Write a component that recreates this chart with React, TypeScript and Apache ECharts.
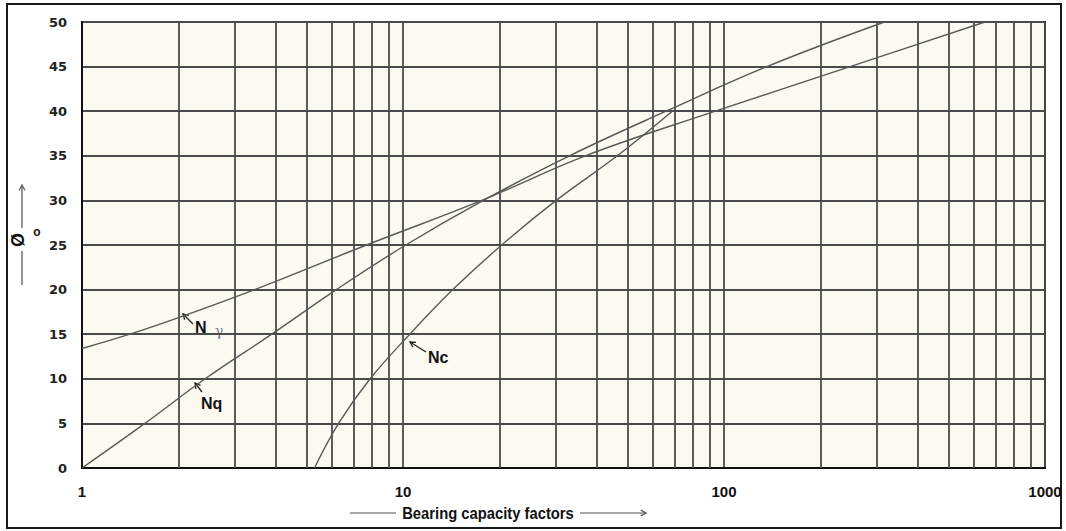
import React, { useEffect, useRef } from "react";
import * as echarts from "echarts";

// Friction angle (degrees) and bearing capacity factor values
const phiNq = [0, 5, 10, 15, 20, 25, 30, 35, 40, 45, 50];
const valNq = [1.0, 1.57, 2.42, 3.9, 6.2, 10.2, 17.8, 33, 66, 136, 316];

const phiNc = [0, 5, 10, 15, 20, 25, 30, 35, 40];
const valNc = [5.3, 6.3, 7.9, 10.5, 14.3, 20.3, 30.0, 46.5, 69];

const phiNg = [13.4, 15, 17, 20, 25, 30, 35, 40, 45, 50];
const valNg = [1.0, 1.41, 2.05, 3.45, 7.7, 17.6, 37, 94, 247, 650];

// vertical minor grid lines of the log paper
const minorGrid = [2, 3, 4, 5, 6, 7, 8, 9, 20, 30, 40, 50, 60, 70, 80, 90, 200, 300, 400, 500, 600, 700, 800, 900];

const xTitle = "Bearing capacity factors";
const curveColor = "#585858";
const gridColor = "#4a4a4a";

function arrow(tx: number, ty: number, hx: number, hy: number, color: string, w: number) {
  const ang = Math.atan2(hy - ty, hx - tx);
  const L = 6;
  const a1 = ang + Math.PI - 0.5;
  const a2 = ang + Math.PI + 0.5;
  return [
    { type: "line", shape: { x1: tx, y1: ty, x2: hx, y2: hy }, style: { stroke: color, lineWidth: w } },
    {
      type: "polyline",
      shape: {
        points: [
          [hx + L * Math.cos(a1), hy + L * Math.sin(a1)],
          [hx, hy],
          [hx + L * Math.cos(a2), hy + L * Math.sin(a2)],
        ],
      },
      style: { stroke: color, lineWidth: w, fill: null },
    },
  ];
}

export default function App() {
  const ref = useRef<HTMLDivElement>(null);
  useEffect(() => {
    if (!ref.current) return;
    const chart = echarts.init(ref.current, null, { renderer: "svg" });
    const lineSeries = (name: string, phis: number[], vals: number[]) => ({
      name,
      type: "line",
      data: vals.map((v, i) => [v, phis[i]]),
      showSymbol: false,
      smooth: 0.4,
      lineStyle: { color: curveColor, width: 1.4 },
      z: 5,
      silent: true,
    });
    const labelFont = { fontFamily: "'Liberation Sans', Arial, sans-serif", fontWeight: "bold", fontSize: 16, fill: "#111" };
    chart.setOption({
      animation: false,
      backgroundColor: "#ffffff",
      grid: {
        left: 82,
        right: 21,
        top: 22,
        bottom: 63,
        show: true,
        backgroundColor: "#fbfaf1",
        borderColor: "#111",
        borderWidth: 2,
      },
      xAxis: {
        type: "log",
        logBase: 10,
        min: 1,
        max: 1000,
        axisLine: { show: true, lineStyle: { color: "#111", width: 2 } },
        axisTick: { show: false },
        axisLabel: {
          margin: 16,
          color: "#111",
          fontSize: 15,
          fontWeight: "bold",
          fontFamily: "'Liberation Sans', Arial, sans-serif",
          formatter: (v: number) => String(Math.round(v)),
        },
        splitLine: { show: true, lineStyle: { color: gridColor, width: 1.8 } },
      },
      yAxis: {
        type: "value",
        min: 0,
        max: 50,
        interval: 5,
        axisLine: { show: true, lineStyle: { color: "#111", width: 2 } },
        axisTick: { show: false },
        axisLabel: {
          margin: 15,
          color: "#222",
          fontSize: 13,
          fontWeight: "bold",
          fontFamily: "'DejaVu Sans', Verdana, sans-serif",
        },
        splitLine: { show: true, lineStyle: { color: gridColor, width: 1.8 } },
      },
      series: [
        {
          name: "grid",
          type: "line",
          data: [],
          silent: true,
          markLine: {
            silent: true,
            symbol: ["none", "none"],
            label: { show: false },
            lineStyle: { color: gridColor, width: 1.8, type: "solid" },
            data: minorGrid.map((v) => ({ xAxis: v })),
            z: 1,
          },
        },
        lineSeries("Nq", phiNq, valNq),
        lineSeries("Nc", phiNc, valNc),
        lineSeries("Nγ", phiNg, valNg),
      ],
      graphic: [
        // outer frame
        {
          type: "rect",
          shape: { x: 7, y: 4, width: 1054, height: 524 },
          style: { fill: null, stroke: "#1a1a1a", lineWidth: 2 },
          silent: true,
        },
        // curve annotations
        ...arrow(193, 324, 183, 314, "#222", 1.3),
        { type: "text", x: 195, y: 327, style: { ...labelFont, text: "N", verticalAlign: "middle" } },
        {
          type: "text",
          x: 215,
          y: 331,
          style: { text: "γ", fontSize: 14, fill: "#6f7d9c", fontFamily: "'DejaVu Serif', serif", verticalAlign: "middle" },
        },
        ...arrow(202, 392, 195, 383, "#222", 1.3),
        { type: "text", x: 201, y: 403, style: { ...labelFont, text: "Nq", verticalAlign: "middle" } },
        ...arrow(426, 352, 410, 342, "#222", 1.3),
        { type: "text", x: 428, y: 357, style: { ...labelFont, text: "Nc", verticalAlign: "middle" } },
        // x axis title
        { type: "line", shape: { x1: 350, y1: 513, x2: 396, y2: 513 }, style: { stroke: "#555", lineWidth: 1.2 } },
        {
          type: "text",
          x: 488,
          y: 513,
          scaleX: 0.87,
          style: {
            text: xTitle,
            align: "center",
            verticalAlign: "middle",
            fontSize: 17,
            fontWeight: "bold",
            fontFamily: "'Liberation Sans', Arial, sans-serif",
            fill: "#111",
          },
        },
        ...arrow(580, 513, 646, 513, "#555", 1.2),
        // y axis title
        ...arrow(22, 228, 22, 185, "#666", 1.4),
        { type: "line", shape: { x1: 22, y1: 251, x2: 22, y2: 285 }, style: { stroke: "#666", lineWidth: 1.4 } },
        {
          type: "text",
          x: 18,
          y: 240,
          rotation: Math.PI / 2,
          style: {
            text: "Ø",
            align: "center",
            verticalAlign: "middle",
            fontSize: 18,
            fontWeight: "bold",
            fontFamily: "'Liberation Sans', Arial, sans-serif",
            fill: "#111",
          },
        },
        {
          type: "text",
          x: 37,
          y: 232,
          style: {
            text: "o",
            align: "center",
            verticalAlign: "middle",
            fontSize: 12,
            fontWeight: "bold",
            fontFamily: "'Liberation Sans', Arial, sans-serif",
            fill: "#111",
          },
        },
      ],
    });
    return () => chart.dispose();
  }, []);
  return <div ref={ref} style={{ position: "absolute", left: 0, top: 0, width: 1066, height: 531 }} />;
}
